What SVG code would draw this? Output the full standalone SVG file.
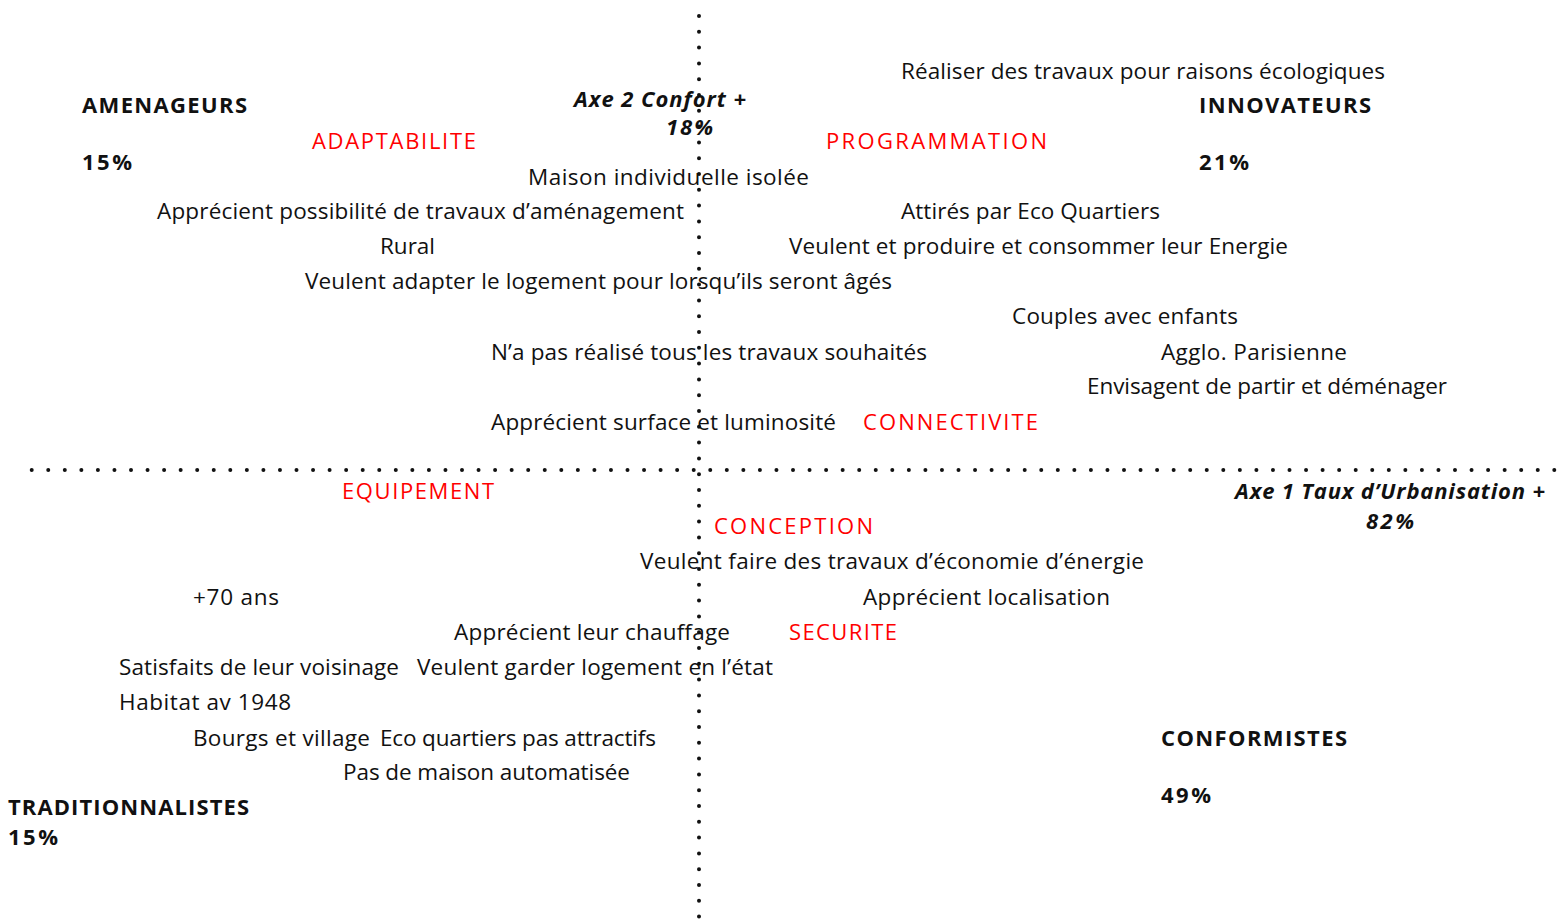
<svg xmlns="http://www.w3.org/2000/svg" width="1564" height="922" viewBox="0 0 1564 922">
<style>
text{font-family:"Open Sans","Noto Sans",sans-serif;font-size:22.5px;fill:#111}
.r{fill:#ff0000;font-size:22px}
.b{font-weight:bold;font-size:22px}
.bi{font-weight:bold;font-style:italic;font-size:22px}
.axis{stroke:#111;stroke-width:4;stroke-linecap:round;fill:none}
</style>
<rect width="1564" height="922" fill="#fff"/>
<g id="axes">
<line class="axis" x1="31.7" y1="470" x2="1557" y2="470" stroke-dasharray="0 16.55"/>
<line class="axis" x1="699" y1="16" x2="699" y2="922" stroke-dasharray="0 15.8"/>
</g>
<g id="labels-groups">
<g id="amenageurs"><text class="b" x="82" y="113" textLength="165">AMENAGEURS</text><text class="b" x="82" y="170" textLength="50">15%</text></g>
<g id="innovateurs"><text class="b" x="1199" y="113" textLength="172">INNOVATEURS</text><text class="b" x="1199" y="170" textLength="50">21%</text></g>
<g id="traditionnalistes"><text class="b" x="8" y="815" textLength="241">TRADITIONNALISTES</text><text class="b" x="8" y="845" textLength="50">15%</text></g>
<g id="conformistes"><text class="b" x="1161" y="746" textLength="186">CONFORMISTES</text><text class="b" x="1161" y="803" textLength="50">49%</text></g>
</g>
<g id="axis-titles">
<g id="axe2"><text class="bi" x="574" y="107" textLength="172">Axe 2 Confort +</text><text class="bi" x="666" y="135" textLength="47">18%</text></g>
<g id="axe1"><text class="bi" x="1235" y="499" textLength="310">Axe 1 Taux d’Urbanisation +</text><text class="bi" x="1366" y="529" textLength="48">82%</text></g>
</g>
<g id="themes">
<g id="adaptabilite"><text class="r" x="312" y="149" textLength="164">ADAPTABILITE</text></g>
<g id="programmation"><text class="r" x="826" y="149" textLength="221">PROGRAMMATION</text></g>
<g id="connectivite"><text class="r" x="863" y="430" textLength="175">CONNECTIVITE</text></g>
<g id="equipement"><text class="r" x="342" y="499" textLength="152">EQUIPEMENT</text></g>
<g id="conception"><text class="r" x="714" y="534" textLength="159">CONCEPTION</text></g>
<g id="securite"><text class="r" x="789" y="640" textLength="108">SECURITE</text></g>
</g>
<g id="items">
<g id="t1"><text x="901" y="79" textLength="484">Réaliser des travaux pour raisons écologiques</text></g>
<g id="t2"><text x="528" y="185" textLength="281">Maison individuelle isolée</text></g>
<g id="t3"><text x="157" y="219" textLength="527">Apprécient possibilité de travaux d’aménagement</text></g>
<g id="t4"><text x="901" y="219" textLength="259">Attirés par Eco Quartiers</text></g>
<g id="t5"><text x="380" y="254" textLength="55">Rural</text></g>
<g id="t6"><text x="789" y="254" textLength="499">Veulent et produire et consommer leur Energie</text></g>
<g id="t7"><text x="305" y="289" textLength="587">Veulent adapter le logement pour lorsqu’ils seront âgés</text></g>
<g id="t8"><text x="1012" y="324" textLength="226">Couples avec enfants</text></g>
<g id="t9"><text x="491" y="360" textLength="436">N’a pas réalisé tous les travaux souhaités</text></g>
<g id="t10"><text x="1161" y="360" textLength="186">Agglo. Parisienne</text></g>
<g id="t11"><text x="1087" y="394" textLength="360">Envisagent de partir et déménager</text></g>
<g id="t12"><text x="491" y="430" textLength="345">Apprécient surface et luminosité</text></g>
<g id="t13"><text x="640" y="569" textLength="504">Veulent faire des travaux d’économie d’énergie</text></g>
<g id="t14"><text x="193" y="605" textLength="86">+70 ans</text></g>
<g id="t15"><text x="863" y="605" textLength="247">Apprécient localisation</text></g>
<g id="t16"><text x="454" y="640" textLength="276">Apprécient leur chauffage</text></g>
<g id="t17"><text x="119" y="675" textLength="280">Satisfaits de leur voisinage</text></g>
<g id="t18"><text x="417" y="675" textLength="356">Veulent garder logement en l’état</text></g>
<g id="t19"><text x="119" y="710" textLength="172">Habitat av 1948</text></g>
<g id="t20"><text x="193" y="746" textLength="177">Bourgs et village</text></g>
<g id="t21"><text x="380" y="746" textLength="276">Eco quartiers pas attractifs</text></g>
<g id="t22"><text x="343" y="780" textLength="287">Pas de maison automatisée</text></g>
</g>
</svg>
